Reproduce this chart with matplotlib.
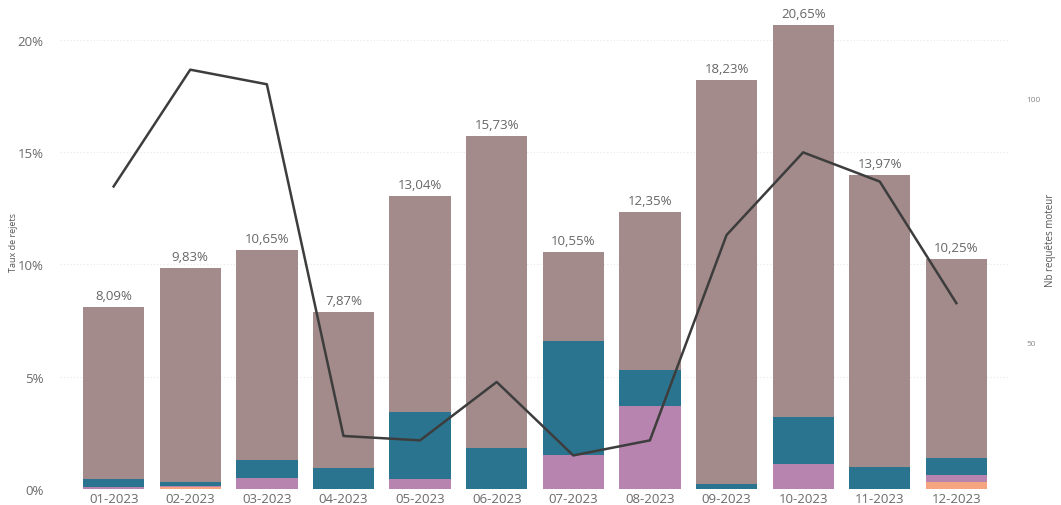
import matplotlib
matplotlib.use("Agg")
import matplotlib.pyplot as plt
import numpy as np

plt.rcParams['font.family'] = ['Open Sans', 'DejaVu Sans']

months = ["01-2023", "02-2023", "03-2023", "04-2023", "05-2023", "06-2023",
          "07-2023", "08-2023", "09-2023", "10-2023", "11-2023", "12-2023"]
totals = [8.09, 9.83, 10.65, 7.87, 13.04, 15.73, 10.55, 12.35, 18.23, 20.65, 13.97, 10.25]
orange = [0.00, 0.10, 0.00, 0.00, 0.00, 0.00, 0.00, 0.00, 0.00, 0.00, 0.00, 0.33]
pink   = [0.10, 0.05, 0.49, 0.00, 0.43, 0.00, 1.53, 3.68, 0.00, 1.13, 0.00, 0.31]
teal   = [0.35, 0.17, 0.80, 0.95, 3.01, 1.81, 5.07, 1.63, 0.22, 2.09, 0.97, 0.74]
requetes = [82, 106, 103, 30.7, 29.8, 41.8, 26.7, 29.8, 72, 89, 83, 58]

c_orange = "#F5A580"
c_pink = "#B684AE"
c_teal = "#2B7490"
c_mauve = "#A38B8B"

fig = plt.figure(figsize=(10.61, 5.06), dpi=100)
ax = fig.add_axes([60/1061, 16/506, 950/1061, 485/506])
x = np.arange(len(months))
w = 0.8
orange_a = np.array(orange)
pink_a = np.array(pink)
teal_a = np.array(teal)
mauve_a = np.array(totals) - orange_a - pink_a - teal_a

b = np.zeros(len(months))
for vals, col in [(orange_a, c_orange), (pink_a, c_pink), (teal_a, c_teal), (mauve_a, c_mauve)]:
    ax.bar(x, vals, w, bottom=b, color=col, linewidth=0, zorder=2)
    b = b + vals

for xi, t in zip(x, totals):
    ax.text(xi, t + 0.22, f"{t:.2f}%".replace(".", ","), ha="center", va="bottom",
            fontsize=9.5, color="#666666", zorder=5)

ax.set_xlim(-0.7, 11.7)
ax.set_ylim(0, 21.6)
ax.set_yticks([0, 5, 10, 15, 20])
ax.set_yticklabels(["0%", "5%", "10%", "15%", "20%"])
ax.set_xticks(x)
ax.set_xticklabels(months)
ax.tick_params(axis="both", length=0, colors="#6a6a6a", labelsize=9.5)
ax.tick_params(axis="y", pad=12)
ax.tick_params(axis="x", pad=2)
ax.grid(axis="y", color="#e6e6e6", linestyle=(0, (1, 2)), linewidth=0.8, zorder=0)
for s in ax.spines.values():
    s.set_visible(False)

ax2 = ax.twinx()
ax2.plot(x, requetes, color="#3d3d3d", linewidth=1.8, zorder=6)
ax2.set_ylim(19.8, 119.5)
ax2.set_yticks([50, 100])
ax2.set_yticklabels(["50", "100"])
ax2.tick_params(axis="y", length=0, colors="#888888", labelsize=6, pad=12)
for s in ax2.spines.values():
    s.set_visible(False)

fig.text(13/1061, 1 - 243/506, "Taux de rejets", rotation=90, ha="center", va="center",
         fontsize=6.5, color="#555555")
fig.text(1050/1061, 1 - 240/506, "Nb requêtes moteur", rotation=90, ha="center", va="center",
         fontsize=7, color="#555555")

fig.savefig("out.png", dpi=100)
